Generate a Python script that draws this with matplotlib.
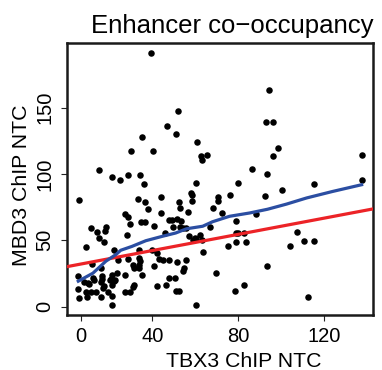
import numpy as np
import matplotlib
matplotlib.use("Agg")
import matplotlib.pyplot as plt

plt.rcParams['font.family'] = ['Liberation Sans', 'DejaVu Sans']

# enhancer signal, TBX3 (x) vs MBD3 (y)
tbx3 = [39.3, 51.9, 46.7, 51.0, 35.2, 60.9, 29.9, 40.3, 62.5, 65.5,
        63.3, 15.0, 21.3, 24.9, 28.4, 34.3, 94.2, 92.8, 96.1, 98.6,
        96.1, 137.5, 137.5, 86.3, 93.5, 36.1, 60.3, 79.9, 100.5, 115.2,
        5.9, 33.3, 36.7, 44.0, 58.0, 58.5, 58.5, 52.5, 70.5, 70.5,
        76.3, 92.5, 37.8, 44.0, 27.3, 28.4, 29.6, 34.7, 36.6, 47.8,
        49.2, 51.3, 53.2, 52.9, 56.7, 68.3, 72.2, 88.3, 79.1, 11.3,
        18.4, 40.8, 49.6, 52.7, 54.3, 55.7, 66.7, 14.1, 17.8, 14.9,
        17.5, 9.0, 28.0, 45.7, 56.9, 58.9, 59.7, 60.5, 62.0, 63.2,
        79.1, 80.0, 82.5, 79.1, 83.4, 75.0, 107.6, 110.8, 115.5, 103.9,
        21.9, 33.5, 39.7, 42.0, 63.5, 28.5, 33.5, 34.0, 43.1, 44.7,
        23.9, 47.7, 51.6, 55.8, 30.7, 31.4, 33.5, 33.8, 40.8, 54.6,
        54.2, 11.6, 16.1, 69.6, 93.5, 5.3, 16.3, 20.9, 20.6, 23.4,
        27.0, 35.0, 47.9, 50.4, 8.2, 9.8, 10.5, 12.1, 12.6, 16.4,
        15.8, 20.3, 21.9, 22.5, 17.2, 16.7, 20.9, 31.3, 30.7, 42.3,
        46.5, 82.6, 5.4, 9.0, 11.3, 13.6, 19.1, 27.3, 29.6, 51.1,
        52.2, 78.4, 5.6, 9.4, 16.0, 20.9, 112.4, 21.3, 60.3]
mbd3 = [191.5, 147.8, 136.3, 130.5, 128.0, 124.0, 117.5, 117.5, 113.9, 114.5,
        110.3, 103.2, 97.5, 95.6, 99.4, 98.9, 163.6, 139.5, 138.8, 119.5,
        113.9, 114.5, 95.6, 103.7, 100.2, 92.2, 93.1, 93.0, 88.1, 92.1,
        80.3, 80.8, 78.9, 82.8, 85.5, 84.1, 79.7, 78.5, 82.6, 79.6,
        83.8, 83.1, 73.3, 70.4, 69.8, 67.4, 62.3, 64.0, 63.6, 65.4,
        65.1, 66.3, 64.8, 74.3, 71.5, 74.1, 70.6, 69.7, 64.8, 59.5,
        59.7, 60.8, 60.0, 59.9, 59.3, 59.1, 60.1, 56.3, 56.7, 51.7,
        48.4, 45.0, 54.2, 55.5, 53.5, 49.9, 51.7, 51.0, 54.2, 50.5,
        55.5, 55.5, 55.5, 48.6, 48.6, 45.9, 56.3, 49.7, 49.5, 45.4,
        42.4, 42.5, 42.9, 40.1, 41.4, 36.1, 36.7, 34.1, 35.8, 35.5,
        35.5, 35.4, 33.4, 34.9, 31.1, 29.1, 31.3, 29.0, 30.6, 29.1,
        27.1, 32.5, 29.4, 25.2, 30.9, 23.3, 22.8, 24.1, 20.9, 25.1,
        24.1, 23.6, 21.5, 21.5, 18.6, 17.8, 17.1, 21.6, 19.8, 20.9,
        18.6, 19.8, 19.6, 20.3, 15.3, 14.1, 16.6, 16.3, 14.5, 15.8,
        16.3, 16.6, 13.6, 10.8, 10.8, 10.8, 10.8, 11.3, 11.1, 12.0,
        12.0, 11.5, 6.6, 7.0, 7.0, 8.1, 7.3, 1.5, 1.3]

# loess smooth
smooth_x = [5.4, 12.2, 18.3, 22.9, 25.2, 30.4, 36.9, 44.8, 50.8, 55.9,
            63.4, 68.0, 75.9, 85.3, 93.6, 102.5, 111.8, 123.9, 137.5]
smooth_y = [19.2, 25.2, 34.3, 39.2, 42.5, 45.4, 49.7, 53.1, 55.5, 58.7,
            60.6, 64.0, 68.1, 70.6, 73.4, 77.3, 81.9, 86.8, 91.9]

# linear fit
fit_intercept = 30.1
fit_slope = 0.305

xtick_pos = [6.5, 40, 80, 120]
xtick_labels = ['0', '40', '80', '120']
ytick_pos = [0, 50, 100, 150]

fig = plt.figure(figsize=(3.82, 3.70), dpi=100)
ax = fig.add_axes([66.7 / 382, 1 - 315 / 370, (373 - 66.7) / 382, (315 - 42.5) / 370])

ax.scatter(tbx3, mbd3, s=22, color='black', linewidths=0, zorder=2)

xl = np.array([0, 142.8])
ax.plot(xl, fit_intercept + fit_slope * xl, color='#ec2327', lw=2.3, zorder=3)
ax.plot(smooth_x, smooth_y, color='#2b4ea2', lw=2.3, zorder=4)

ax.set_xlim(0, 142.8)
ax.set_ylim(-6.3, 199.1)
ax.set_xticks(xtick_pos)
ax.set_xticklabels(xtick_labels)
ax.set_yticks(ytick_pos)
ax.set_yticklabels([str(v) for v in ytick_pos], rotation=90, va='center')

for s in ax.spines.values():
    s.set_linewidth(1.8)
    s.set_color('#1a1a1a')
ax.tick_params(direction='out', length=4, width=0.8, labelsize=14.5,
               color='#222222', pad=5)

fig.text(232.5 / 382, 1 - 33.5 / 370, 'Enhancer co\u2212occupancy',
         fontsize=18.5, ha='center', va='baseline')
fig.text(243.5 / 382, 1 - 366.7 / 370, 'TBX3 ChIP NTC',
         fontsize=15.3, ha='center', va='baseline')
fig.text(21.5 / 382, 1 - 185 / 370, 'MBD3 ChIP NTC',
         fontsize=15.3, ha='center', va='center', rotation=90)

fig.savefig('out.png', dpi=100)
